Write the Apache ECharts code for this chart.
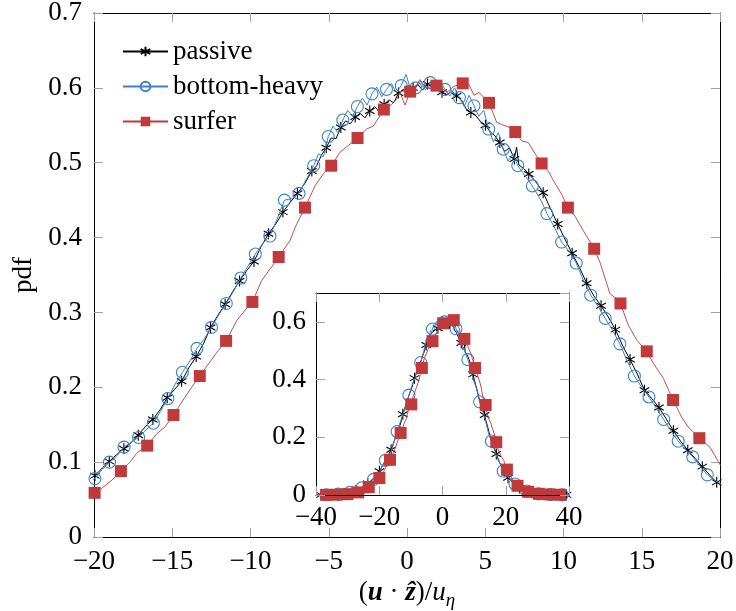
<!DOCTYPE html>
<html>
<head>
<meta charset="utf-8">
<script src="https://cdn.jsdelivr.net/npm/echarts@6/dist/echarts.min.js"></script>
<style>
html,body{margin:0;padding:0;background:#fff;}
#chart{width:736px;height:611px;}
</style>
</head>
<body>
<div id="chart"></div>
<script>
// ---------------- data ----------------
const seriesNames = ['passive', 'bottom-heavy', 'surfer'];
const mainXTicks = [-20, -15, -10, -5, 0, 5, 10, 15, 20];
const insetXTicks = [-40, -20, 0, 20, 40];

// passive: marked points
const passiveX = [-39.34,-38.42,-37.50,-36.57,-35.65,-34.72,-33.80,-32.88,-31.95,-31.03,-30.10,-29.18,-28.26,-27.33,-26.41,-25.48,-24.56,-23.64,-22.71,-21.79,-20.86,
  -19.94,-19.02,-18.09,-17.17,-16.24,-15.32,-14.40,-13.47,-12.55,-11.62,-10.70,-9.78,-8.85,-7.93,-7.00,-6.08,-5.16,-4.23,-3.31,-2.38,-1.46,-0.54,0.39,1.31,2.24,3.16,4.08,5.01,5.93,6.86,7.78,8.70,9.63,10.55,11.48,12.40,13.32,14.25,15.17,16.10,17.02,17.94,18.87,19.79,
  20.72,21.64,22.56,23.49,24.41,25.34,26.26,27.19,28.11,29.03,29.96,30.88,31.81,32.73,33.66,34.58,35.50,36.43,37.35,38.28,39.20];
const passiveY = [0.0003,0.0004,0.0006,0.0008,0.001,0.0015,0.002,0.003,0.004,0.005,0.007,0.009,0.012,0.016,0.021,0.026,0.033,0.040,0.049,0.058,0.069,
  0.082,0.101,0.118,0.136,0.157,0.186,0.208,0.241,0.280,0.311,0.342,0.368,0.405,0.434,0.459,0.489,0.520,0.547,0.561,0.569,0.578,0.593,0.600,0.605,0.594,0.589,0.567,0.550,0.527,0.505,0.485,0.460,0.418,0.379,0.339,0.309,0.277,0.237,0.196,0.173,0.142,0.116,0.094,0.073,
  0.060,0.049,0.040,0.031,0.024,0.018,0.014,0.010,0.008,0.006,0.004,0.003,0.002,0.002,0.0015,0.001,0.001,0.0008,0.0006,0.0005,0.0004];
// passive: unmarked line points
const passiveFineX = [-40.0,-19.48,-18.56,-17.63,-16.70,-15.78,-14.86,-13.94,-13.01,-12.09,-11.16,-10.24,-9.32,-8.39,-7.47,-6.54,
  -5.77,-5.47,-4.85,-4.54,-3.92,-3.62,-3.00,-2.69,-2.07,-1.77,-1.15,-0.85,-0.23,0.08,0.70,1.00,1.62,1.93,2.55,2.85,3.47,3.77,4.39,4.70,5.32,5.62,6.24,6.55,7.00,7.15,7.47,8.09,8.39,9.01,9.32,
  10.09,11.02,11.94,12.86,13.79,14.71,15.64,16.56,17.48,18.41,19.33,40.0];
const passiveFineY = [0.0002,0.092,0.110,0.126,0.148,0.170,0.197,0.226,0.258,0.296,0.327,0.356,0.388,0.418,0.447,0.472,
  0.496,0.510,0.533,0.532,0.556,0.552,0.566,0.560,0.575,0.568,0.584,0.580,0.598,0.592,0.604,0.597,0.603,0.606,0.591,0.596,0.584,0.572,0.563,0.555,0.541,0.536,0.515,0.520,0.521,0.497,0.492,0.478,0.470,0.446,0.432,
  0.398,0.360,0.322,0.294,0.255,0.218,0.185,0.158,0.128,0.105,0.083,0.0003];

// bottom-heavy: marked points
const heavyX = [-39.51,-38.57,-37.64,-36.71,-35.78,-34.85,-33.92,-32.98,-32.05,-31.12,-30.19,-29.26,-28.32,-27.39,-26.46,-25.53,-24.60,-23.67,-22.73,-21.80,-20.87,
  -19.94,-19.01,-18.08,-17.15,-16.21,-15.28,-14.35,-13.42,-12.49,-11.55,-10.62,-9.69,-8.76,-7.83,-6.90,-5.96,-5.03,-4.10,-3.17,-2.24,-1.31,-0.37,0.56,1.49,2.42,3.35,4.28,5.22,6.15,7.08,8.01,8.94,9.88,10.81,11.74,12.67,13.60,14.53,15.46,16.40,17.33,18.26,19.19,
  20.12,21.06,21.99,22.92,23.85,24.78,25.71,26.65,27.58,28.51,29.44,30.37,31.30,32.24,33.17,34.10,35.03,35.96,36.89,37.83,38.76,39.69];
const heavyY = [0.0003,0.0004,0.0006,0.0008,0.001,0.0015,0.002,0.003,0.004,0.005,0.007,0.009,0.012,0.015,0.020,0.025,0.031,0.038,0.046,0.054,0.064,
  0.078,0.100,0.120,0.133,0.152,0.185,0.220,0.252,0.280,0.312,0.346,0.378,0.402,0.450,0.459,0.496,0.535,0.557,0.575,0.592,0.598,0.603,0.600,0.607,0.598,0.587,0.576,0.545,0.518,0.496,0.469,0.432,0.394,0.366,0.323,0.292,0.258,0.215,0.187,0.157,0.128,0.107,0.083,
  0.070,0.058,0.047,0.038,0.030,0.024,0.018,0.014,0.010,0.008,0.006,0.004,0.003,0.002,0.002,0.0015,0.001,0.0008,0.0006,0.0005,0.0004,0.0003];
// bottom-heavy: unmarked line points
const heavyFineX = [-40.0,-19.48,-18.55,-17.61,-16.68,-15.75,-14.82,-13.88,-12.95,-12.02,-11.09,-10.16,-9.22,-8.29,-7.36,-6.43,
  -5.65,-5.34,-4.72,-4.41,-3.79,-3.48,-2.86,-2.55,-1.93,-1.62,-1.00,-0.69,-0.06,0.25,0.87,1.18,1.80,2.11,2.73,3.04,3.66,3.97,4.59,4.90,5.53,5.84,6.46,6.77,7.39,7.70,8.32,8.63,
  9.41,10.34,11.27,12.21,13.14,14.07,15.00,15.93,16.86,17.79,18.72,19.65,40.0];
const heavyFineY = [0.0002,0.090,0.108,0.127,0.143,0.168,0.204,0.235,0.265,0.297,0.328,0.362,0.392,0.425,0.452,0.478,
  0.512,0.508,0.549,0.540,0.570,0.562,0.586,0.577,0.601,0.588,0.606,0.594,0.618,0.596,0.609,0.597,0.600,0.610,0.589,0.600,0.575,0.590,0.562,0.570,0.528,0.540,0.502,0.512,0.487,0.478,0.458,0.447,
  0.414,0.382,0.343,0.308,0.276,0.235,0.200,0.172,0.142,0.117,0.095,0.076,0.0002];

// surfer: marked points
const surferX = [-38.44,-36.76,-35.08,-33.40,-31.72,-30.04,-28.36,-26.68,-25.00,-23.32,-21.64,-19.96,-18.28,-16.60,-14.92,-13.24,-11.56,-9.88,-8.20,-6.52,-4.84,-3.16,-1.48,
  0.20,1.88,3.56,5.24,6.92,8.60,10.28,11.96,13.64,15.32,17.00,18.68,20.36,22.04,23.72,25.40,27.08,28.76,30.44,32.12,33.80,35.48,37.16];
const surferY = [0.0003,0.0005,0.001,0.001,0.002,0.003,0.005,0.009,0.016,0.027,0.040,0.059,0.088,0.122,0.163,0.215,0.262,0.314,0.374,0.440,0.496,0.533,0.571,
  0.595,0.603,0.606,0.580,0.541,0.499,0.440,0.385,0.312,0.248,0.183,0.132,0.088,0.055,0.032,0.019,0.011,0.007,0.004,0.003,0.002,0.001,0.001];
// surfer: unmarked line points
const surferFineX = [-40.0,-19.45,-18.85,-17.70,-17.27,-15.99,-15.46,-14.18,-13.76,-12.59,-12.06,-10.88,-10.35,-9.28,-8.75,-7.48,-7.05,-5.88,-5.35,-4.28,-3.75,-2.58,-2.15,
  -0.98,-0.66,-0.45,-0.13,0.55,0.83,1.20,2.20,2.54,3.00,3.95,4.28,4.60,5.73,6.05,6.58,7.33,7.75,8.18,9.03,9.35,9.88,10.75,11.27,12.33,12.97,13.40,14.14,14.68,15.74,16.38,17.55,17.97,19.36,20.00,40.0];
const surferFineY = [0.0002,0.066,0.076,0.100,0.112,0.138,0.147,0.187,0.200,0.234,0.249,0.289,0.303,0.343,0.358,0.396,0.418,0.469,0.485,0.514,0.523,0.545,0.549,
  0.578,0.585,0.594,0.577,0.602,0.611,0.600,0.600,0.594,0.602,0.605,0.590,0.594,0.554,0.551,0.547,0.529,0.527,0.512,0.489,0.476,0.458,0.428,0.409,0.367,0.325,0.318,0.283,0.263,0.232,0.212,0.160,0.147,0.120,0.097,0.0005];

// ---------------- styling ----------------
const FONT = 'Liberation Serif';
const BLACK = '#000000', BLUE = '#3b82c8', RED = '#c0393b';
const ASTERISK = 'path://M0,-1L0,1M-0.866,-0.5L0.866,0.5M-0.866,0.5L0.866,-0.5';

function build(mx, my, fx, fy, every, phase) {
  const pts = [];
  mx.forEach((x, i) => {
    const item = { value: [x, my[i]] };
    if (i % every !== phase) item.symbol = 'none';
    pts.push(item);
  });
  fx.forEach((x, i) => pts.push({ value: [x, fy[i]], symbol: 'none' }));
  pts.sort((a, b) => a.value[0] - b.value[0]);
  return pts;
}

const minus = v => (v < 0 ? '\u2212' + (-v) : String(v));
const tickStyle = { show: true, inside: true, length: 9, lineStyle: { color: '#a0a0a0', width: 1 } };
const lineAxis = { show: true, onZero: false, lineStyle: { color: '#000', width: 1 } };
const labelFont = { fontFamily: FONT, fontSize: 27, color: '#000' };

const styles = [
  { name: 'passive', color: BLACK, lw: 1, symbol: ASTERISK, size: 11,
    itemStyle: { color: BLACK, borderColor: BLACK, borderWidth: 1.1 } },
  { name: 'bottom-heavy', color: BLUE, lw: 1, symbol: 'circle', size: 12,
    itemStyle: { color: 'rgba(255,255,255,0)', borderColor: BLUE, borderWidth: 1.1 } },
  { name: 'surfer', color: RED, lw: 0.9, symbol: 'rect', size: 12,
    itemStyle: { color: RED, borderWidth: 0 } }
];
const dataSets = [
  [passiveX, passiveY, passiveFineX, passiveFineY, 4, 1],
  [heavyX, heavyY, heavyFineX, heavyFineY, 4, 3],
  [surferX, surferY, surferFineX, surferFineY, 2, 1]
];

const series = [];
styles.forEach((s, i) => {
  const d = dataSets[i];
  const common = {
    type: 'line', name: s.name, symbol: s.symbol, symbolSize: s.size, symbolKeepAspect: true,
    showSymbol: true, showAllSymbol: true, clip: true, animation: false,
    lineStyle: { color: s.color, width: s.lw }, itemStyle: s.itemStyle,
    emphasis: { disabled: true }
  };
  series.push(Object.assign({}, common, {
    xAxisIndex: 0, yAxisIndex: 0, z: 2 + i, data: build(d[0], d[1], d[2], d[3], 1, 0)
  }));
  series.push(Object.assign({}, common, {
    xAxisIndex: 2, yAxisIndex: 2, z: 6 + i, data: build(d[0], d[1], d[2], d[3], d[4], d[5])
  }));
});

const option = {
  backgroundColor: '#fff',
  animation: false,
  grid: [
    { left: 94, top: 13, right: 16, bottom: 74, containLabel: false, outerBoundsMode: 'none' },
    { left: 316, top: 293, right: 167, bottom: 116, containLabel: false, outerBoundsMode: 'none',
      show: true, backgroundColor: '#fff', borderWidth: 0 }
  ],
  legend: {
    orient: 'vertical', left: 117, top: 33, itemWidth: 45, itemHeight: 12, itemGap: 8,
    textStyle: { fontFamily: FONT, fontSize: 27, color: '#000', lineHeight: 27 },
    data: seriesNames, selectedMode: false
  },
  xAxis: [
    { type: 'value', gridIndex: 0, min: -20, max: 20, interval: 5, position: 'bottom',
      axisLine: lineAxis, axisTick: tickStyle, splitLine: { show: false },
      axisLabel: Object.assign({ margin: 11, formatter: minus }, labelFont),
      name: '{p|(}{b|u}{p| \u00b7 }{b|\u1e91}{p|)/}{i|u}{s|\u03b7}', nameLocation: 'middle', nameGap: 38,
      nameTextStyle: { rich: {
        p: { fontFamily: FONT, fontSize: 27, lineHeight: 34, color: '#000' },
        b: { fontFamily: FONT, fontSize: 27, lineHeight: 34, fontStyle: 'italic', fontWeight: 'bold', color: '#000' },
        i: { fontFamily: FONT, fontSize: 27, lineHeight: 34, fontStyle: 'italic', color: '#000' },
        s: { fontFamily: FONT, fontSize: 19, lineHeight: 19, fontStyle: 'italic', verticalAlign: 'bottom', color: '#000' }
      } } },
    { type: 'value', gridIndex: 0, min: -20, max: 20, interval: 5, position: 'top',
      axisLine: lineAxis, axisTick: tickStyle, axisLabel: { show: false }, splitLine: { show: false } },
    { type: 'value', gridIndex: 1, min: -40, max: 40, interval: 20, position: 'bottom', z: 10,
      axisLine: lineAxis, axisTick: tickStyle, splitLine: { show: false },
      axisLabel: Object.assign({ margin: 9, formatter: minus }, labelFont) },
    { type: 'value', gridIndex: 1, min: -40, max: 40, interval: 20, position: 'top', z: 10,
      axisLine: lineAxis, axisTick: tickStyle, axisLabel: { show: false }, splitLine: { show: false } }
  ],
  yAxis: [
    { type: 'value', gridIndex: 0, min: 0, max: 0.7, interval: 0.1, position: 'left',
      axisLine: lineAxis, axisTick: tickStyle, splitLine: { show: false },
      axisLabel: Object.assign({ margin: 12, formatter: v => (v === 0 ? '0' : v.toFixed(1)) }, labelFont),
      name: 'pdf', nameLocation: 'middle', nameGap: 52,
      nameTextStyle: { fontFamily: FONT, fontSize: 27, color: '#000' } },
    { type: 'value', gridIndex: 0, min: 0, max: 0.7, interval: 0.1, position: 'right',
      axisLine: lineAxis, axisTick: tickStyle, axisLabel: { show: false }, splitLine: { show: false } },
    { type: 'value', gridIndex: 1, min: 0, max: 0.7, interval: 0.2, position: 'left', z: 10,
      axisLine: lineAxis, axisTick: tickStyle, splitLine: { show: false },
      axisLabel: Object.assign({ margin: 10, showMaxLabel: false, formatter: v => (v === 0 ? '0' : v.toFixed(1)) }, labelFont) },
    { type: 'value', gridIndex: 1, min: 0, max: 0.7, interval: 0.2, position: 'right', z: 10,
      axisLine: lineAxis, axisTick: tickStyle, axisLabel: { show: false }, splitLine: { show: false } }
  ],
  series: series
};

const chart = echarts.init(document.getElementById('chart'), null, { renderer: 'canvas' });
chart.setOption(option);
</script>
</body>
</html>
